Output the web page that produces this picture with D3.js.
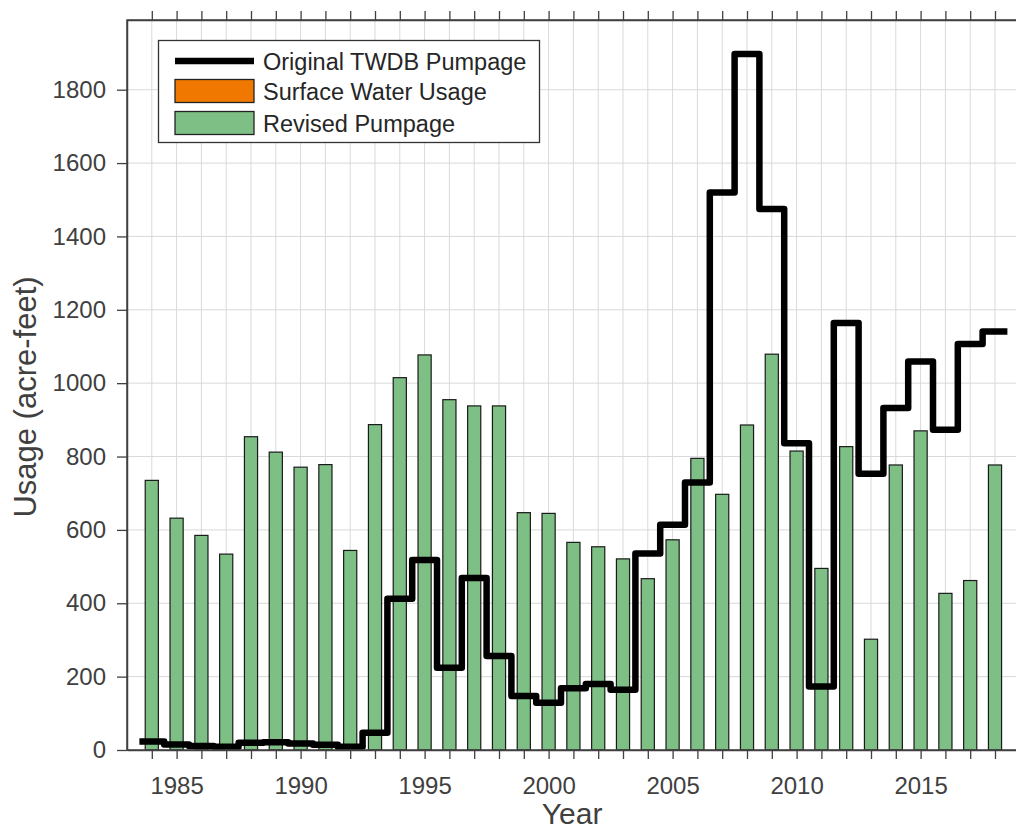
<!DOCTYPE html>
<html>
<head>
<meta charset="utf-8">
<script src="https://cdn.jsdelivr.net/npm/d3@7"></script>
<style>
  html, body { margin: 0; padding: 0; background: #fff; }
  svg { display: block; font-family: "Liberation Sans", Arial, Helvetica, sans-serif; }
</style>
</head>
<body>
<svg id="chart" width="1016" height="831"></svg>
<script>
// ---- data ----
const years = d3.range(1984, 2019);
const revisedPumpage = [735, 632, 585, 534, 854, 812, 771, 778, 544, 887,
  1015, 1077, 955, 938, 938, 647, 645, 566, 554, 521,
  467, 573, 795, 697, 886, 1079, 815, 495, 827, 302,
  777, 870, 427, 462, 777];
const surfaceWater = [0, 0, 0, 0, 0, 0, 0, 0, 0, 0,
  0, 0, 0, 0, 0, 0, 0, 0, 0, 0,
  0, 0, 0, 0, 0, 0, 0, 0, 0, 0,
  0, 0, 0, 0, 0];
const originalTWDB = [23, 15, 11, 9, 20, 21, 18, 14, 9, 47,
  412, 518, 224, 469, 256, 147, 129, 168, 180, 164,
  536, 614, 729, 1520, 1897, 1475, 836, 173, 1164, 753,
  932, 1059, 873, 1107, 1141];
const yTicks = [0, 200, 400, 600, 800, 1000, 1200, 1400, 1600, 1800];
const xLabelYears = [1985, 1990, 1995, 2000, 2005, 2010, 2015];
const legendLabels = ["Original TWDB Pumpage", "Surface Water Usage", "Revised Pumpage"];

// ---- layout ----
const svg = d3.select("#chart");
const L = 127, T = 20, B = 750;
const x = d3.scaleLinear().domain([1983, 2019]).range([L, L + 36 * 24.8]);
const y = d3.scaleLinear().domain([0, 1990]).range([B, T]);
const R = x(2019);
const axisColor = "#404040";
const textColor = "#404040";
const green = "#7dbf84";
const orange = "#f07800";

// clip for plot area
svg.append("defs").append("clipPath").attr("id", "plotclip")
  .append("rect").attr("x", L).attr("y", T).attr("width", R - L).attr("height", B - T);

// grid
const allYears = d3.range(1984, 2019);
svg.append("g").selectAll("line").data(allYears).join("line")
  .attr("x1", d => x(d)).attr("x2", d => x(d))
  .attr("y1", T).attr("y2", B)
  .attr("stroke", "#d9d9d9").attr("stroke-width", 1);
svg.append("g").selectAll("line").data(yTicks.slice(1)).join("line")
  .attr("x1", L).attr("x2", R)
  .attr("y1", d => y(d)).attr("y2", d => y(d))
  .attr("stroke", "#d9d9d9").attr("stroke-width", 1);

// bars
const bw = 0.53;
const plot = svg.append("g").attr("clip-path", "url(#plotclip)");
plot.append("g").selectAll("rect").data(years.map((yr, i) => ({yr, v: surfaceWater[i]})).filter(d => d.v > 0))
  .join("rect")
  .attr("x", d => x(d.yr - bw / 2)).attr("width", x(bw) - x(0))
  .attr("y", d => y(d.v)).attr("height", d => y(0) - y(d.v))
  .attr("fill", orange).attr("stroke", "#1a1a1a").attr("stroke-width", 1.2);
plot.append("g").selectAll("rect").data(years.map((yr, i) => ({yr, v: revisedPumpage[i]})))
  .join("rect")
  .attr("x", d => x(d.yr - bw / 2)).attr("width", x(bw) - x(0))
  .attr("y", d => y(d.v)).attr("height", d => y(0) - y(d.v))
  .attr("fill", green).attr("stroke", "#1a1a1a").attr("stroke-width", 1.2);

// stairs line
const stepPts = years.map((yr, i) => [yr - 0.5, originalTWDB[i]]);
stepPts.push([years[years.length - 1] + 0.5, originalTWDB[originalTWDB.length - 1]]);
const line = d3.line().x(d => x(d[0])).y(d => y(d[1])).curve(d3.curveStepAfter);
svg.append("path").datum(stepPts).attr("d", line)
  .attr("fill", "none").attr("stroke", "#000").attr("stroke-width", 6.5)
  .attr("stroke-linejoin", "round").attr("stroke-linecap", "butt");

// axes
const xAxisB = d3.axisBottom(x).tickValues(d3.range(1984, 2019)).tickSize(9)
  .tickFormat(d => xLabelYears.includes(d) ? String(d) : "").tickSizeOuter(0).tickPadding(18);
const gxb = svg.append("g").attr("transform", `translate(0,${B})`).call(xAxisB);
const xAxisT = d3.axisTop(x).tickValues(d3.range(1984, 2019)).tickSize(9).tickFormat("").tickSizeOuter(0);
const gxt = svg.append("g").attr("transform", `translate(0,${T})`).call(xAxisT);
const yAxisL = d3.axisLeft(y).tickValues(yTicks).tickSize(10).tickSizeOuter(0).tickPadding(11)
  .tickFormat(d3.format("d"));
const gyl = svg.append("g").attr("transform", `translate(${L},0)`).call(yAxisL);
const yAxisR = d3.axisRight(y).tickValues(yTicks).tickSize(10).tickFormat("").tickSizeOuter(0);
const gyr = svg.append("g").attr("transform", `translate(${R},0)`).call(yAxisR);
[gxb, gxt, gyl, gyr].forEach(g => {
  g.selectAll("path.domain").attr("stroke", axisColor).attr("stroke-width", 1.5);
  g.selectAll(".tick line").attr("stroke", axisColor).attr("stroke-width", 1.3);
  g.selectAll("text").attr("fill", textColor).attr("font-size", 24)
    .attr("font-family", "'Liberation Sans', Arial, sans-serif");
});
svg.append("rect").attr("x", L).attr("y", T).attr("width", R - L).attr("height", B - T)
  .attr("fill", "none").attr("stroke", axisColor).attr("stroke-width", 1.5);

// axis labels
svg.append("text").attr("x", x(2000.95)).attr("y", 824).attr("text-anchor", "middle")
  .attr("font-size", 30).attr("fill", textColor).text("Year");
svg.append("text").attr("transform", `translate(36,${397}) rotate(-90)`).attr("text-anchor", "middle")
  .attr("font-size", 31).attr("fill", textColor).text("Usage (acre-feet)");

// legend
const lg = svg.append("g");
lg.append("rect").attr("x", 158.5).attr("y", 40.5).attr("width", 381).attr("height", 102)
  .attr("fill", "#fff").attr("stroke", "#333").attr("stroke-width", 1.3);
const rows = [61, 91, 123];
lg.append("line").attr("x1", 175).attr("x2", 254).attr("y1", rows[0]).attr("y2", rows[0])
  .attr("stroke", "#000").attr("stroke-width", 6.5);
lg.append("rect").attr("x", 175).attr("y", 79.5).attr("width", 79).attr("height", 23)
  .attr("fill", orange).attr("stroke", "#222").attr("stroke-width", 1.3);
lg.append("rect").attr("x", 175).attr("y", 111.5).attr("width", 79).attr("height", 23)
  .attr("fill", green).attr("stroke", "#222").attr("stroke-width", 1.3);
lg.selectAll("text.lbl").data(legendLabels).join("text").attr("class", "lbl")
  .attr("x", 263).attr("y", (d, i) => rows[i] + 8.5)
  .attr("font-size", 23.5).attr("fill", "#262626").text(d => d);
</script>
</body>
</html>
